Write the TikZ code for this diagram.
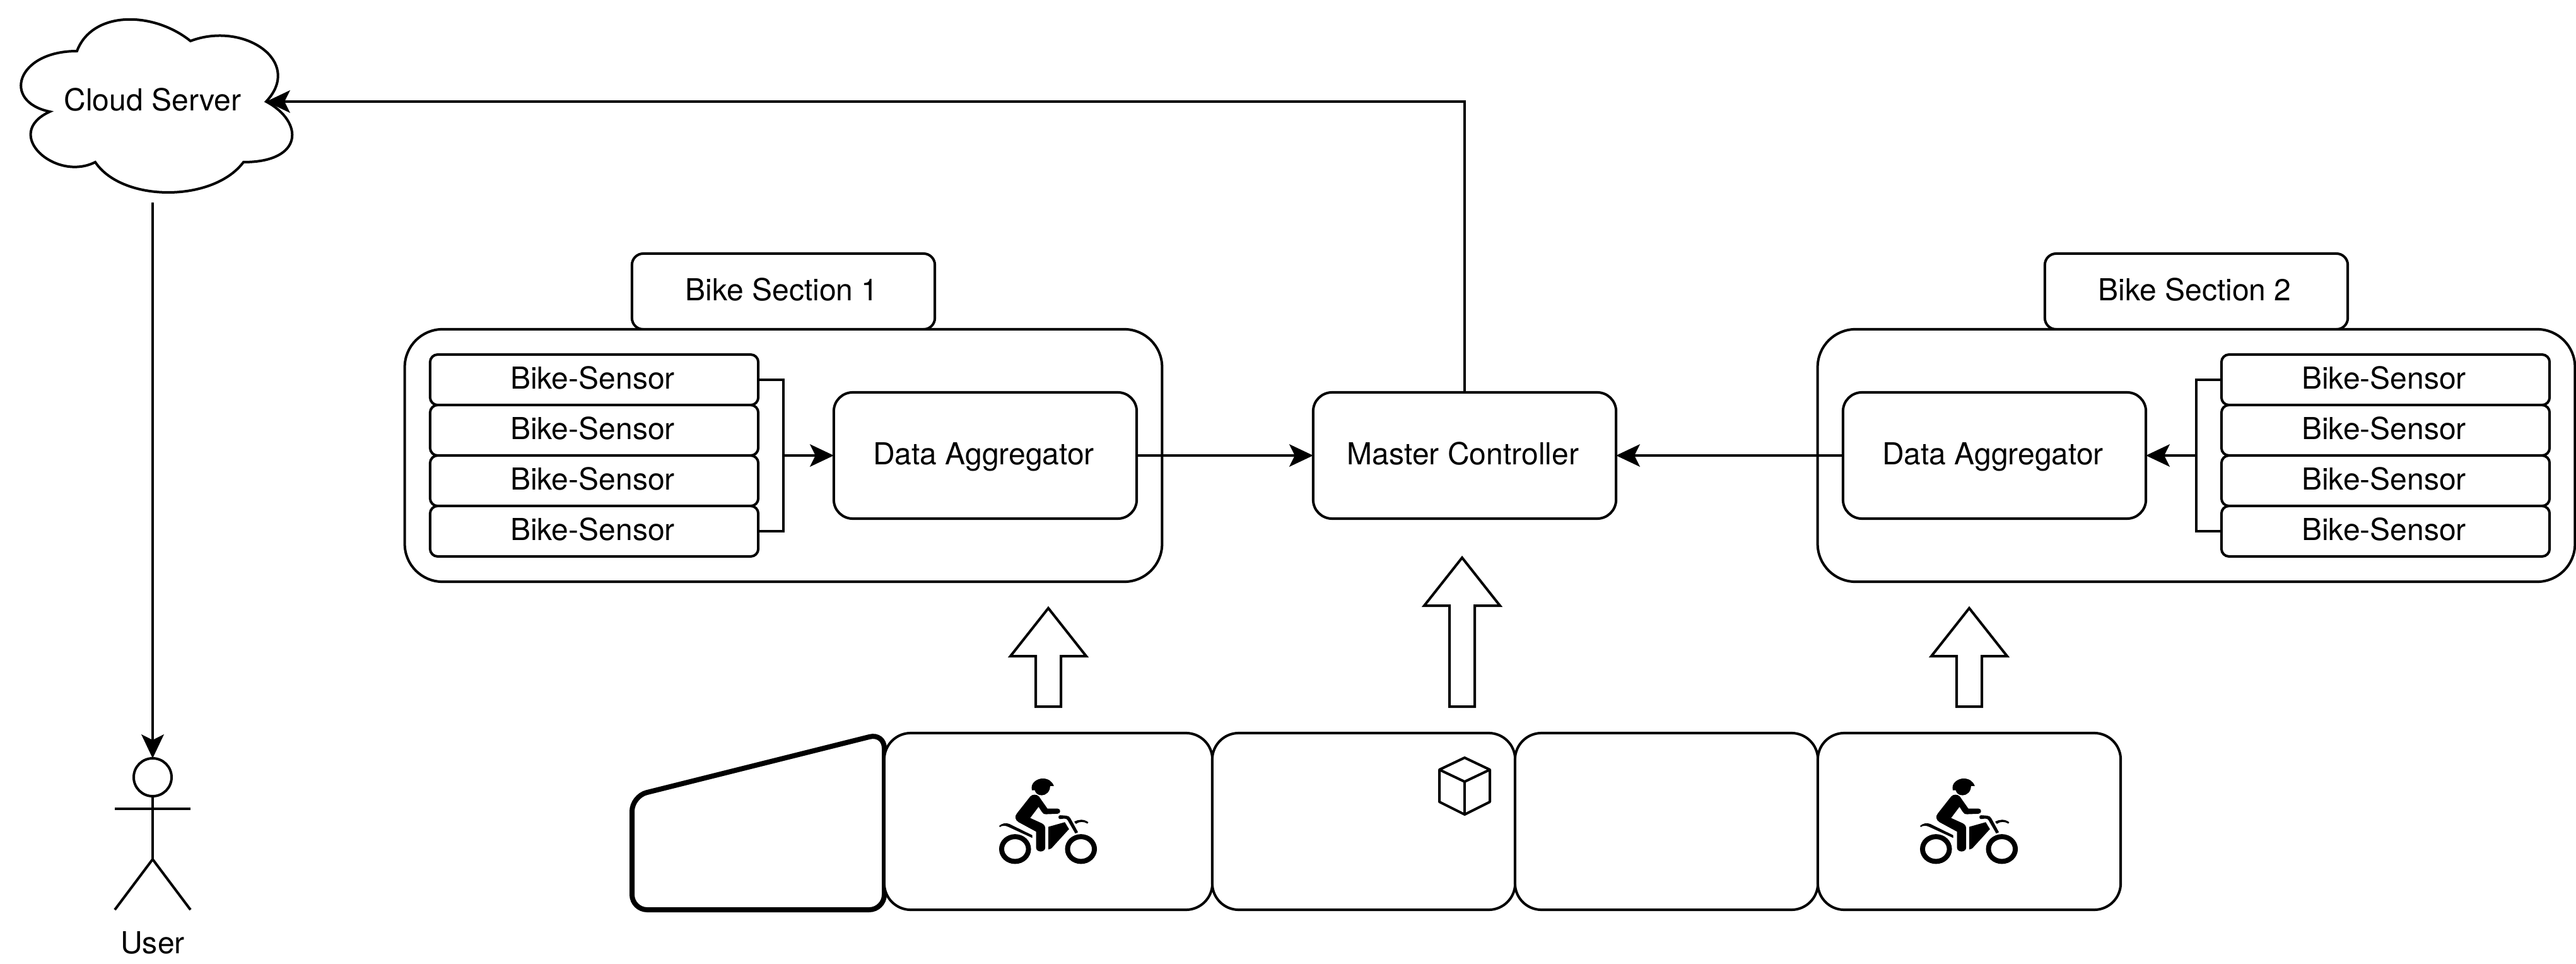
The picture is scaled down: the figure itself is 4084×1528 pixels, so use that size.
\documentclass[tikz,border=0pt]{standalone}
\usepackage{fontspec}
\setmainfont{TeX Gyre Heros}
\usetikzlibrary{arrows.meta}
\tikzset{
  base/.style={line width=0.04cm, draw=black},
  box/.style={base, fill=white, rectangle, inner sep=0pt, outer sep=0pt, align=center,
    text height=0.345cm, text depth=0.06cm,
    execute at end node=\hspace{0.05cm},
    font=\fontsize{13.66pt}{16pt}\selectfont},
  sensor/.style={box, minimum width=5.2cm, minimum height=0.8cm, rounded corners=0.12cm},
  titlebox/.style={box, minimum width=4.8cm, minimum height=1.2cm, rounded corners=0.18cm},
  group/.style={box, minimum width=12cm, minimum height=4cm, rounded corners=0.6cm},
  ctrl/.style={box, minimum width=4.8cm, minimum height=2cm, rounded corners=0.3cm},
  bay/.style={box, minimum height=2.8cm, rounded corners=0.42cm},
  label/.style={inner sep=0pt, outer sep=0pt, text height=0.345cm, text depth=0.06cm,
    font=\fontsize{13.66pt}{16pt}\selectfont},
  conn/.style={base, -{Stealth[length=0.38cm,width=0.36cm,inset=0.09cm,line width=0pt]}},
  plain/.style={base},
  bigarrow/.style={base, fill=white},
  moto/.pic={
    \begin{scope}[x=0.003333cm,y=-0.003333cm, fill=black]
      % wheels
      \fill[even odd rule] (118,378) ellipse [x radius=76, y radius=71] (118,378) ellipse [x radius=52, y radius=47];
      \fill[even odd rule] (432,378) ellipse [x radius=76, y radius=71] (432,378) ellipse [x radius=52, y radius=47];
      % helmet
      \fill (197,85) .. controls (197,60) and (225,42) .. (250,42) .. controls (275,42) and (295,55) .. (303,78) -- (285,78)
        .. controls (285,105) and (265,122) .. (245,122) .. controls (225,122) and (215,110) .. (212,98) -- (198,98) -- cycle;
      % rider
      \fill (190,128) .. controls (200,116) and (222,116) .. (232,128) -- (272,185) -- (320,185)
        .. controls (337,185) and (337,210) .. (320,210) -- (268,212) .. controls (255,213) and (250,208) .. (245,200)
        -- (230,177) -- (190,230) -- (245,255) .. controls (258,262) and (262,270) .. (262,282) -- (262,370)
        .. controls (262,396) and (218,396) .. (218,370) -- (218,295) -- (135,250)
        .. controls (118,240) and (115,222) .. (127,208) -- cycle;
      % fairing
      \fill (277,272) -- (355,250) -- (375,283) -- (300,365) .. controls (292,375) and (285,380) .. (277,380) -- cycle;
      % rear fender
      \fill (42,268) .. controls (55,255) and (75,252) .. (90,258) -- (200,312) -- (200,325) -- (85,272)
        .. controls (70,265) and (55,266) .. (46,273) -- cycle;
      % handlebar and fork
      \fill (325,225) .. controls (325,219) and (328,217) .. (335,217) -- (362,219) .. controls (372,220) and (378,224) .. (382,232)
        -- (418,298) -- (405,304) -- (368,240) .. controls (364,234) and (360,233) .. (352,233) -- (332,235) .. controls (326,235) and (325,230) .. (325,225) -- cycle;
      % front fender
      \fill (400,248) .. controls (420,236) and (445,234) .. (467,250) -- (463,257) .. controls (445,246) and (425,246) .. (408,258) -- cycle;
    \end{scope}
  }
}
\begin{document}
\begin{tikzpicture}[x=0.01cm,y=-0.01cm]
\useasboundingbox (0,0) rectangle (4084,1528);
\fill[white] (0,0) rectangle (4084,1528);

% Cloud
\draw[base, fill=white, line join=miter]
  (122,81)
  .. controls (26,81) and (2,161) .. (79,177)
  .. controls (2,212) and (88,289) .. (151,257)
  .. controls (194,321) and (338,321) .. (386,257)
  .. controls (482,257) and (482,193) .. (422,161)
  .. controls (482,97) and (386,33) .. (302,65)
  .. controls (242,17) and (146,17) .. (122,81) -- cycle;
\node[label, minimum width=4.8cm, minimum height=3.2cm] (cloud) at (242,161) {Cloud Server};
\coordinate (cloudin) at (422,161);

% Actor
\node[base, circle, fill=white, inner sep=0pt, outer sep=0pt, minimum size=0.6cm] (head) at (242,1232) {};
\coordinate (neck) at (242,1262);
\coordinate (hip) at (242,1362);
\coordinate (armL) at (182,1282);
\coordinate (armR) at (302,1282);
\coordinate (footL) at (182,1442);
\coordinate (footR) at (302,1442);
\draw[plain] (neck) -- (hip);
\draw[plain] (armL) -- (armR);
\draw[plain] (footL) -- (hip) -- (footR);
\node[label] (user) at (242,1497) {User};

% Section 1
\node[titlebox] (t1) at (1242,462) {Bike Section 1};
\node[group] (g1) at (1242,722) {};
\node[sensor] (s11) at (942,602) {Bike-Sensor};
\node[sensor] (s12) at (942,682) {Bike-Sensor};
\node[sensor] (s13) at (942,762) {Bike-Sensor};
\node[sensor] (s14) at (942,842) {Bike-Sensor};
\node[ctrl] (a1) at (1562,722) {Data Aggregator};

% Section 2
\node[titlebox] (t2) at (3482,462) {Bike Section 2};
\node[group] (g2) at (3482,722) {};
\node[sensor] (s21) at (3782,602) {Bike-Sensor};
\node[sensor] (s22) at (3782,682) {Bike-Sensor};
\node[sensor] (s23) at (3782,762) {Bike-Sensor};
\node[sensor] (s24) at (3782,842) {Bike-Sensor};
\node[ctrl] (a2) at (3162,722) {Data Aggregator};

% Master
\node[ctrl] (m) at (2322,722) {Master Controller};

% Connectors
\coordinate (j1) at (1242,722);
\coordinate (j2) at (3482,722);
\draw[plain] (s11.east) -| (j1);
\draw[plain] (s14.east) -| (j1);
\draw[conn] (j1) -- (a1.west);
\draw[plain] (s21.west) -| (j2);
\draw[plain] (s24.west) -| (j2);
\draw[conn] (j2) -- (a2.east);
\draw[conn] (a1.east) -- (m.west);
\draw[conn] (a2.west) -- (m.east);
\draw[conn] (m.north) |- (cloudin);
\draw[conn] (cloud.south) -- (head.north);

% Block arrows
\draw[bigarrow] (1662,964) -- (1722,1040) -- (1682,1040) -- (1682,1120) -- (1642,1120) -- (1642,1040) -- (1602,1040) -- cycle;
\draw[bigarrow] (2318,884) -- (2378,960) -- (2338,960) -- (2338,1120) -- (2298,1120) -- (2298,960) -- (2258,960) -- cycle;
\draw[bigarrow] (3122,964) -- (3182,1040) -- (3142,1040) -- (3142,1120) -- (3102,1120) -- (3102,1040) -- (3062,1040) -- cycle;

% Bottom row
\draw[line width=0.08cm, fill=white, rounded corners=0.24cm]
  (1002,1262) -- (1402,1162) -- (1402,1442) -- (1002,1442) -- cycle;
\node[bay, minimum width=5.2cm] (b1) at (1662,1302) {};
\node[bay, minimum width=4.8cm] (b2) at (2162,1302) {};
\node[bay, minimum width=4.8cm] (b3) at (2642,1302) {};
\node[bay, minimum width=4.8cm] (b4) at (3122,1302) {};

% Motorcycle icons
\pic at (1570,1220) {moto};
\pic at (3030,1220) {moto};

% Cube
\draw[base, line join=round] (2322,1201) -- (2362,1220) -- (2362,1271) -- (2322,1291) -- (2282,1271) -- (2282,1220) -- cycle;
\draw[base, line join=round] (2282,1220) -- (2322,1239) -- (2362,1220);
\draw[base] (2322,1239) -- (2322,1291);
\end{tikzpicture}
\end{document}
